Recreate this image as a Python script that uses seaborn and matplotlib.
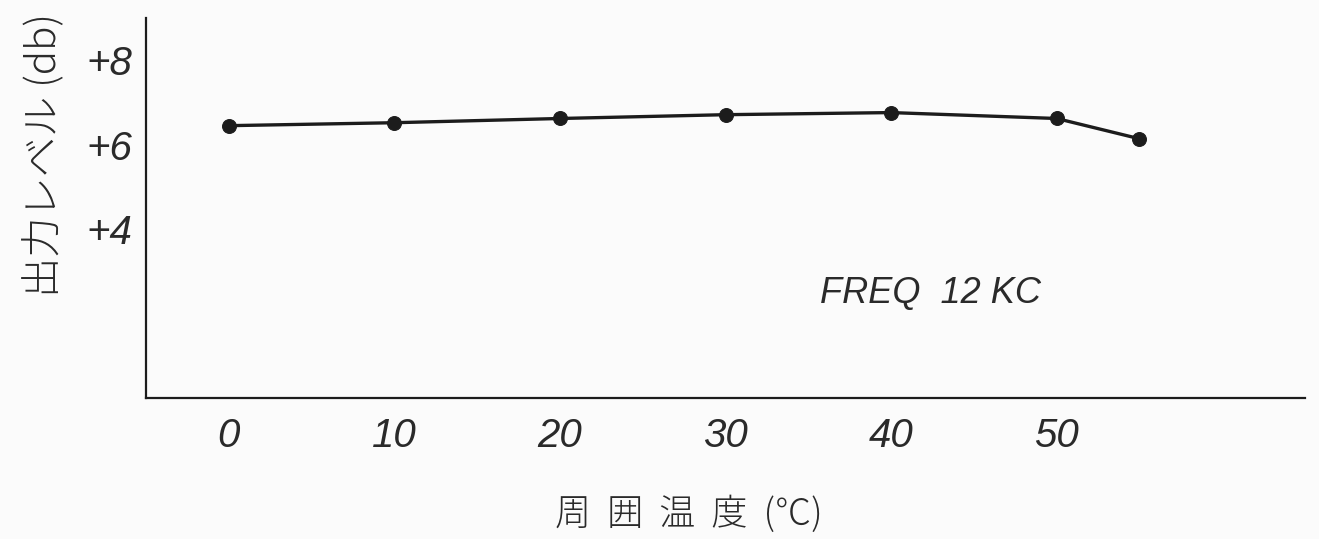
import matplotlib
matplotlib.use("Agg")
import matplotlib.pyplot as plt
import seaborn as sns
import pandas as pd

# Output level versus ambient temperature, FREQ 12 kc
temperature_c = [0, 10, 20, 30, 40, 50, 55]
output_level_db = [6.45, 6.52, 6.62, 6.71, 6.76, 6.62, 6.14]
x_ticks = [0, 10, 20, 30, 40, 50]
y_ticks = [4, 6, 8]
y_tick_labels = ["+4", "+6", "+8"]

df = pd.DataFrame({"temp": temperature_c, "level": output_level_db})

sns.set_theme(style="white")
plt.rcParams["font.family"] = ["Noto Sans CJK JP", "DejaVu Sans"]

ink = "#1c1c1c"
text_ink = "#2a2a2a"
num_font = ["Liberation Sans Narrow", "Liberation Sans", "DejaVu Sans"]

fig = plt.figure(figsize=(13.19, 5.39), dpi=100, facecolor="#fbfbfb")
ax = fig.add_axes([0.1107, 0.2616, 0.8787, 0.705])
ax.set_facecolor("#fbfbfb")

sns.lineplot(data=df, x="temp", y="level", ax=ax, color=ink, linewidth=2.4,
             marker="o", markersize=10, markeredgecolor=ink, markerfacecolor=ink)

ax.set_xlim(-5, 65)
ax.set_ylim(0, 9)

for side in ["top", "right"]:
    ax.spines[side].set_visible(False)
for side in ["left", "bottom"]:
    ax.spines[side].set_color(ink)
    ax.spines[side].set_linewidth(1.6)

ax.set_xticks(x_ticks)
ax.set_xticklabels([str(t) for t in x_ticks], fontsize=29, style="italic",
                   family=num_font, color=text_ink)
ax.set_yticks(y_ticks)
ax.set_yticklabels(y_tick_labels, fontsize=29, style="italic",
                   family=num_font, color=text_ink)
ax.tick_params(axis="x", direction="in", length=7, width=1, color=ink, pad=14)
ax.tick_params(axis="y", direction="in", length=10, width=1.2, color=ink, pad=10)

ax.set_xlabel("周  囲  温  度  (℃)", fontsize=26, color=text_ink,
              fontweight="light", va="center")
ax.xaxis.set_label_coords(0.468, -0.308)
ax.set_ylabel("出力レベル (db)", fontsize=29, color=text_ink,
              fontweight="light", va="center")
ax.yaxis.set_label_coords(-0.087, 0.64)

ax.text(42.4, 2.48, "FREQ  12 KC", fontsize=26, style="italic", family=num_font,
        color=text_ink, ha="center", va="center")

fig.savefig("out.png", dpi=100, facecolor=fig.get_facecolor())
